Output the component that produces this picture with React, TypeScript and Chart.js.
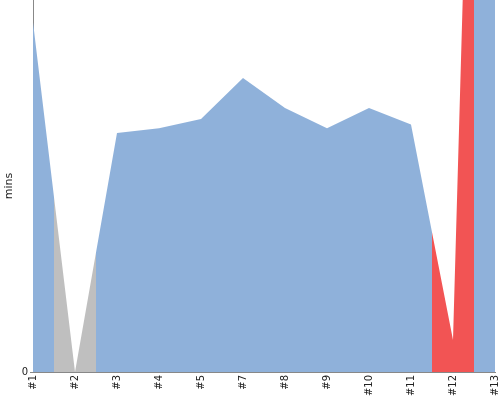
import React, { useEffect, useRef } from "react";
import { Chart, registerables } from "chart.js";

Chart.register(...registerables);

const BUILD_LABELS = ["#1", "#2", "#3", "#4", "#5", "#7", "#8", "#9", "#10", "#11", "#12", "#13"];
const BUILD_MINUTES = [18.8, 0, 12.85, 13.1, 13.6, 15.8, 14.2, 13.1, 14.2, 13.3, 1.72, 80.9];
const BUILD_STATUS = ["success", "aborted", "success", "success", "success", "success", "success", "success", "success", "success", "failure", "success"];
const STATUS_COLORS: Record<string, string> = {
  success: "#8fb1da",
  aborted: "#bfbfbf",
  failure: "#f25454",
};
const Y_MAX = 20;

export default function App() {
  const ref = useRef<HTMLCanvasElement | null>(null);

  useEffect(() => {
    if (!ref.current) return;
    const fillFor = (ctx: any) => {
      const chart = ctx.chart;
      const xs = chart.scales?.x;
      const area = chart.chartArea;
      if (!xs || !area) return STATUS_COLORS.success;
      const n = BUILD_LABELS.length;
      const left = area.left;
      const right = area.right;
      const w = right - left;
      const g = chart.ctx.createLinearGradient(left, 0, right, 0);
      for (let i = 0; i < n; i++) {
        const p = xs.getPixelForValue(i);
        const s = i === 0 ? left : (xs.getPixelForValue(i - 1) + p) / 2;
        const e = i === n - 1 ? right : (xs.getPixelForValue(i + 1) + p) / 2;
        const c = STATUS_COLORS[BUILD_STATUS[i]];
        g.addColorStop(Math.max(0, Math.min(1, (s - left) / w)), c);
        g.addColorStop(Math.max(0, Math.min(1, (e - left) / w)), c);
      }
      return g;
    };

    const chart = new Chart(ref.current, {
      type: "line",
      data: {
        labels: BUILD_LABELS,
        datasets: [
          {
            data: BUILD_MINUTES,
            fill: "origin",
            backgroundColor: fillFor,
            borderWidth: 0,
            borderColor: "rgba(0,0,0,0)",
            pointRadius: 0,
            tension: 0,
          },
        ],
      },
      options: {
        responsive: false,
        animation: false,
        layout: { padding: { top: 0, right: 5, left: 0, bottom: 0 } },
        plugins: { legend: { display: false }, tooltip: { enabled: false } },
        scales: {
          x: {
            type: "category",
            offset: false,
            grid: { display: true, drawOnChartArea: false, drawTicks: false },
            border: { display: true, color: "#888888", width: 1 },
            ticks: {
              minRotation: 90,
              maxRotation: 90,
              autoSkip: false,
              padding: 3,
              color: "#222222",
              font: { family: "DejaVu Sans", size: 10 },
            },
            afterFit: (s: any) => {
              s.height = 28;
              s.paddingLeft = 0;
              s.paddingRight = 0;
            },
          },
          y: {
            min: 0,
            max: Y_MAX,
            grid: { display: true, drawOnChartArea: false, drawTicks: true, tickLength: 3, color: "#888888" },
            border: { display: true, color: "#888888", width: 1 },
            afterBuildTicks: (s: any) => {
              s.ticks = [{ value: 0 }];
            },
            ticks: {
              padding: 2,
              color: "#222222",
              font: { family: "DejaVu Sans", size: 10 },
              callback: (v: any) => String(v),
            },
            title: {
              display: true,
              text: "mins",
              color: "#222222",
              font: { family: "DejaVu Sans", size: 11 },
              padding: { top: 3, bottom: 0 },
            },
            afterFit: (s: any) => {
              s.width = 33;
              s.paddingTop = 0;
              s.paddingBottom = 0;
            },
          },
        },
      },
    });
    return () => chart.destroy();
  }, []);

  return (
    <div style={{ position: "absolute", left: 0, top: 0, width: 500, height: 400, background: "#fff" }}>
      <canvas ref={ref} width={500} height={400} style={{ display: "block" }} />
    </div>
  );
}
